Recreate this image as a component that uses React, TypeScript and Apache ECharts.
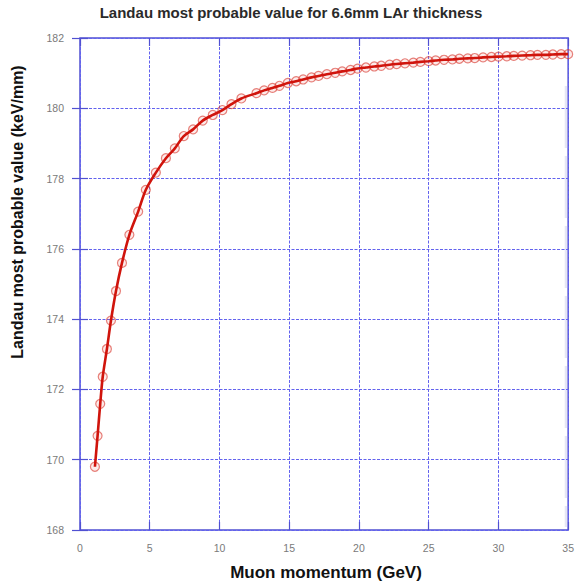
import React, { useEffect, useRef } from "react";
import * as echarts from "echarts";

// Muon momentum (GeV) of each simulated sample
const momentum = [
  1.07, 1.26, 1.45, 1.63, 1.93, 2.22, 2.58, 3.01, 3.54, 4.17, 4.72, 5.44, 6.16, 6.8, 7.44, 8.11,
  8.8, 9.52, 10.21, 10.86, 11.57, 12.65, 13.2, 13.8, 14.3, 14.9, 15.5, 16.0, 16.6, 17.1, 17.7,
  18.3, 18.8, 19.4, 19.9, 20.5, 21.1, 21.6, 22.2, 22.7, 23.3, 23.9, 24.4, 25.0, 25.5, 26.1, 26.7,
  27.2, 27.8, 28.3, 28.9, 29.5, 30.0, 30.6, 31.1, 31.7, 32.3, 32.8, 33.4, 33.9, 34.5, 35.0,
];

// Landau most probable value (keV/mm) at each momentum
const mpv = [
  169.8, 170.68, 171.59, 172.36, 173.15, 173.96, 174.8, 175.6, 176.4, 177.06, 177.68, 178.17,
  178.58, 178.86, 179.21, 179.4, 179.65, 179.81, 179.95, 180.12, 180.28, 180.43, 180.51, 180.58,
  180.64, 180.72, 180.77, 180.82, 180.88, 180.92, 180.97, 181.01, 181.05, 181.09, 181.13, 181.16,
  181.19, 181.21, 181.24, 181.26, 181.28, 181.3, 181.32, 181.34, 181.36, 181.38, 181.39, 181.41,
  181.42, 181.43, 181.45, 181.46, 181.47, 181.48, 181.49, 181.5, 181.51, 181.52, 181.52, 181.53,
  181.54, 181.54,
];

const xRange = { min: 0, max: 35, step: 5 };
const yRange = { min: 168, max: 182, step: 2 };

const FONT = "'Liberation Sans', Arial, sans-serif";
const BLUE = "#5050d2";
const GRID_BLUE = "#6262ee";

export default function App() {
  const ref = useRef<HTMLDivElement>(null);

  useEffect(() => {
    if (!ref.current) return;
    const chart = echarts.init(ref.current, null, { renderer: "svg" });
    const points = momentum.map((p, i) => [p, mpv[i]]);

    const tick = { show: true, inside: true, length: 8, lineStyle: { color: BLUE, width: 1.2 } };
    const label = { color: "#7a7a7a", fontSize: 10.5, fontFamily: FONT };

    chart.setOption({
      animation: false,
      backgroundColor: "#fff",
      grid: {
        left: 80,
        right: 8,
        top: 38,
        bottom: 54,
        show: true,
        borderColor: BLUE,
        borderWidth: 1.5,
        backgroundColor: "transparent",
      },
      xAxis: [
        {
          type: "value",
          min: xRange.min,
          max: xRange.max,
          interval: xRange.step,
          axisLine: { show: false },
          axisTick: tick,
          axisLabel: { ...label, margin: 12 },
          splitLine: { show: true, lineStyle: { color: GRID_BLUE, type: [3, 1.5], width: 1 } },
        },
        {
          type: "value",
          position: "top",
          min: xRange.min,
          max: xRange.max,
          interval: xRange.step,
          axisLine: { show: false },
          axisTick: tick,
          axisLabel: { show: false },
          splitLine: { show: false },
        },
      ],
      yAxis: [
        {
          type: "value",
          min: yRange.min,
          max: yRange.max,
          interval: yRange.step,
          axisLine: { show: false },
          axisTick: tick,
          axisLabel: { ...label, margin: 16 },
          splitLine: { show: true, lineStyle: { color: GRID_BLUE, type: [3, 1.5], width: 1 } },
        },
        {
          type: "value",
          position: "right",
          min: yRange.min,
          max: yRange.max,
          interval: yRange.step,
          axisLine: { show: false },
          axisTick: tick,
          axisLabel: { show: false },
          splitLine: { show: false },
        },
      ],
      series: [
        {
          type: "scatter",
          data: points,
          symbol: "circle",
          symbolSize: 9,
          itemStyle: { color: "rgba(240,120,110,0.18)", borderColor: "rgba(215,50,40,0.75)", borderWidth: 1.2 },
          z: 2,
          clip: false,
        },
        {
          type: "line",
          data: points,
          smooth: 0.3,
          showSymbol: false,
          lineStyle: { color: "#d0140c", width: 2.6 },
          z: 3,
        },
      ],
      graphic: [
        {
          type: "text",
          x: 291,
          y: 12,
          style: {
            text: "Landau most probable value for 6.6mm LAr thickness",
            font: `bold 15px ${FONT}`,
            fill: "#2a2a2a",
            align: "center",
            verticalAlign: "middle",
          },
        },
        {
          type: "text",
          x: 326,
          y: 572,
          style: {
            text: "Muon momentum (GeV)",
            font: `bold 17px ${FONT}`,
            fill: "#111",
            align: "center",
            verticalAlign: "middle",
          },
        },
        {
          type: "text",
          x: 17,
          y: 212,
          rotation: Math.PI / 2,
          style: {
            text: "Landau most probable value (keV/mm)",
            font: `bold 16px ${FONT}`,
            fill: "#111",
            align: "center",
            verticalAlign: "middle",
          },
        },
        {
          type: "line",
          shape: { x1: 566, y1: 86, x2: 566, y2: 527 },
          style: { stroke: "rgba(200,200,232,0.45)", lineWidth: 2.5, lineDash: [62, 8] },
          silent: true,
        },
      ],
    });

    return () => chart.dispose();
  }, []);

  return <div ref={ref} style={{ position: "absolute", left: 0, top: 0, width: 577, height: 584 }} />;
}
